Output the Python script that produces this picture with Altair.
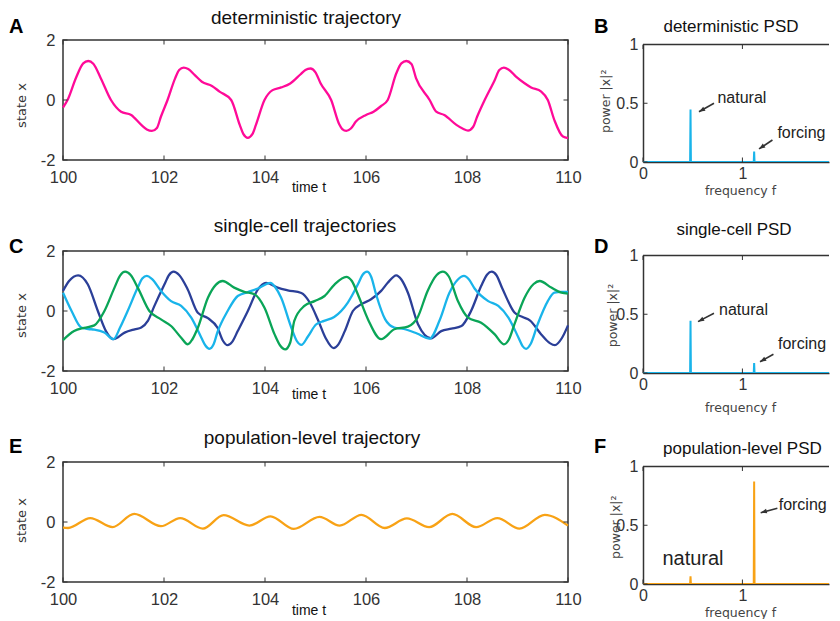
import altair as alt
import pandas as pd

FONT = "Liberation Sans"
FONT2 = "DejaVu Sans"
FRAME = "#333333"

# ---------------- data ----------------
# A: deterministic trajectory
A_T = [100.0, 100.09, 100.26, 100.4, 100.5, 100.6, 100.75, 100.95, 101.15, 101.35,
       101.55, 101.66, 101.76, 101.86, 101.94, 102.07, 102.22, 102.3, 102.39, 102.48,
       102.61, 102.75, 102.95, 103.1, 103.33, 103.5, 103.57, 103.66, 103.75, 103.82,
       103.99, 104.15, 104.32, 104.5, 104.7, 104.8, 104.9, 105.0, 105.1, 105.31,
       105.47, 105.53, 105.61, 105.7, 105.8, 106.0, 106.15, 106.3, 106.43, 106.6,
       106.7, 106.8, 106.9, 106.99, 107.26, 107.39, 107.55, 107.79, 107.92, 108.02,
       108.12, 108.2, 108.35, 108.55, 108.64, 108.73, 108.82, 108.97, 109.14, 109.27,
       109.47, 109.6, 109.73, 109.9, 110.0]
A_X = [-0.25, 0.0, 0.75, 1.22, 1.3, 1.21, 0.72, 0.0, -0.39, -0.5,
       -0.83, -0.98, -1.03, -0.93, -0.55, 0.0, 0.72, 1.0, 1.08, 1.03,
       0.83, 0.61, 0.47, 0.28, 0.0, -0.83, -1.13, -1.26, -1.14, -0.83,
       0.0, 0.33, 0.42, 0.55, 0.85, 1.0, 1.05, 0.92, 0.56, 0.0,
       -0.81, -0.97, -1.03, -0.95, -0.72, -0.5, -0.39, -0.2, 0.0, 0.89,
       1.22, 1.3, 1.2, 0.73, 0.0, -0.39, -0.5, -0.83, -0.96, -1.02,
       -0.9, -0.56, 0.0, 0.67, 1.0, 1.08, 1.02, 0.78, 0.56, 0.42,
       0.28, 0.0, -0.67, -1.22, -1.27]

# C: single-cell trajectories
C1_T = [100.0, 100.12, 100.3, 100.49, 100.69, 100.85, 101.0, 101.22, 101.42, 101.55,
        101.68, 101.81, 102.01, 102.1, 102.19, 102.3, 102.47, 102.67, 102.87, 103.06,
        103.17, 103.26, 103.35, 103.46, 103.66, 103.86, 104.02, 104.25, 104.45, 104.72,
        104.88, 105.05, 105.2, 105.36, 105.45, 105.58, 105.74, 105.9, 106.1, 106.3,
        106.43, 106.6, 106.7, 106.83, 107.03, 107.29, 107.49, 107.69, 107.89, 108.08,
        108.28, 108.4, 108.49, 108.58, 108.7, 108.94, 109.1, 109.25, 109.47, 109.64,
        109.74, 109.88, 110.0]
C1_X = [0.67, 1.0, 1.19, 0.89, 0.0, -0.67, -0.94, -0.72, -0.61, -0.55,
        -0.33, 0.17, 0.89, 1.2, 1.31, 1.2, 0.72, -0.06, -0.24, -0.56,
        -1.0, -1.14, -1.03, -0.67, 0.0, 0.72, 0.94, 0.78, 0.69, 0.6,
        0.3, -0.3, -0.9, -1.24, -1.12, -0.67, 0.0, 0.22, 0.39, 0.67,
        0.94, 1.19, 1.05, 0.61, -0.44, -0.91, -0.67, -0.59, -0.5, 0.0,
        0.83, 1.22, 1.31, 1.2, 0.75, -0.05, -0.2, -0.32, -0.78, -1.07,
        -1.14, -0.9, -0.48]

C2_T = [100.0, 100.17, 100.36, 100.5, 100.62, 100.82, 101.0, 101.13, 101.28, 101.48,
        101.57, 101.66, 101.76, 101.94, 102.14, 102.34, 102.54, 102.74, 102.82, 102.9,
        102.98, 103.06, 103.26, 103.46, 103.66, 103.86, 104.11, 104.2, 104.32, 104.52,
        104.63, 104.72, 104.85, 105.01, 105.17, 105.37, 105.64, 105.84, 105.93, 106.02,
        106.1, 106.2, 106.38, 106.56, 106.75, 107.01, 107.26, 107.46, 107.65, 107.82,
        107.94, 108.04, 108.15, 108.42, 108.62, 108.82, 109.02, 109.1, 109.17, 109.26,
        109.4, 109.6, 109.73, 109.87, 110.0]
C2_X = [0.61, 0.0, -0.55, -0.6, -0.62, -0.72, -0.94, -0.55, 0.0, 0.78,
        1.08, 1.17, 1.07, 0.67, 0.33, 0.17, -0.22, -0.89, -1.15, -1.26,
        -1.12, -0.7, 0.0, 0.5, 0.63, 0.75, 0.94, 0.8, 0.44, -0.55,
        -1.0, -1.13, -0.85, -0.45, -0.33, -0.2, 0.28, 0.89, 1.2, 1.31,
        1.15, 0.55, -0.28, -0.55, -0.6, -0.75, -0.92, -0.3, 0.6, 1.05,
        1.17, 1.05, 0.75, 0.33, 0.17, -0.22, -0.89, -1.17, -1.26, -1.1,
        -0.44, 0.33, 0.61, 0.64, 0.64]

C3_T = [100.0, 100.22, 100.42, 100.62, 100.82, 101.02, 101.13, 101.23, 101.34, 101.48,
        101.71, 101.94, 102.14, 102.34, 102.47, 102.56, 102.67, 102.87, 103.03, 103.16,
        103.39, 103.59, 103.79, 103.99, 104.19, 104.3, 104.4, 104.5, 104.58, 104.78,
        104.98, 105.18, 105.38, 105.61, 105.72, 105.84, 106.04, 106.3, 106.56, 106.83,
        107.02, 107.22, 107.4, 107.52, 107.64, 107.82, 108.02, 108.28, 108.55, 108.73,
        108.83, 108.94, 109.14, 109.32, 109.44, 109.67, 109.87, 110.0]
C3_X = [-0.97, -0.67, -0.56, -0.48, 0.0, 0.78, 1.18, 1.31, 1.2, 0.78,
        0.0, -0.28, -0.5, -0.89, -1.11, -0.95, -0.56, 0.44, 0.88, 1.0,
        0.78, 0.64, 0.56, 0.11, -0.78, -1.15, -1.28, -1.05, -0.33, 0.17,
        0.33, 0.5, 0.89, 1.14, 1.0, 0.55, -0.28, -0.94, -0.61, -0.52,
        -0.22, 0.67, 1.2, 1.31, 1.15, 0.33, -0.22, -0.39, -0.78, -1.11,
        -0.95, -0.44, 0.44, 0.9, 1.0, 0.78, 0.61, 0.58]

# E: population-level trajectory
E_T = [100.0, 100.1, 100.54, 100.98, 101.41, 101.94, 102.32, 102.77, 103.18, 103.69,
       104.11, 104.57, 105.08, 105.48, 105.91, 106.37, 106.81, 107.25, 107.71, 108.18,
       108.6, 109.04, 109.54, 110.0]
E_X = [-0.19, -0.2, 0.13, -0.17, 0.27, -0.14, 0.13, -0.22, 0.23, -0.12,
       0.19, -0.23, 0.17, -0.12, 0.24, -0.2, 0.12, -0.17, 0.27, -0.17,
       0.13, -0.22, 0.24, -0.12]

# PSD panels
PSD_F = [0.0, 0.474, 0.478, 0.482, 1.114, 1.118, 1.122, 1.89]
B_P = [0.0, 0.0, 0.446, 0.0, 0.0, 0.09, 0.0, 0.0]
D_P = [0.0, 0.0, 0.445, 0.0, 0.0, 0.085, 0.0, 0.0]
F_P = [0.0, 0.0, 0.065, 0.0, 0.0, 0.872, 0.0, 0.0]

X_TICKS = [100, 102, 104, 106, 108, 110]
Y_TICKS = [-2, 0, 2]
F_TICKS = [0, 1]
P_TICKS = [0, 0.5, 1]

SERIES = ["a", "c1", "c2", "c3", "e"]
SERIES_COLORS = ["#ff0a98", "#2b3f98", "#19b4ea", "#0aa557", "#f8a215"]
COL_CYAN = "#19b4ea"
COL_ORANGE = "#f8a215"

# ---------------- layout constants ----------------
LW, LH = 505, 120
RW, RH, RTOP = 186, 122, 4.5
F_MAX = 1.871
ARROW = "M0,0L-0.5,1.3L0.5,1.3Z"


def text_layer(s, x, y, size, weight="normal", align="center", color="#111"):
    return alt.Chart(pd.DataFrame({"s": [s]})).mark_text(
        font=FONT, fontSize=size, fontWeight=weight, align=align,
        baseline="alphabetic", color=color,
    ).encode(text="s:N", x=alt.value(x), y=alt.value(y))


def left_panel(df, title, tx, ty, letter, ly, ytitle_y, ttitle_y):
    xs = alt.Scale(domain=[100, 110], nice=False, zero=False)
    ys = alt.Scale(domain=[-2, 2], nice=False, zero=False)
    common = dict(labelFont=FONT, labelFontSize=16.5, labelColor="#333",
                  ticks=False, tickSize=0, domain=False, grid=False,
                  labelFlush=False, labelExpr="'' + datum.value",
                  titleFontWeight="normal",
                  titleAlign="center", titleBaseline="alphabetic")
    xaxis = alt.Axis(values=X_TICKS, labelPadding=9, title="time t",
                     titleFont=FONT, titleFontSize=14, titleColor="#111", titleX=245.5,
                     titleY=ttitle_y, **common)
    yaxis = alt.Axis(values=Y_TICKS, labelPadding=8, title="state x",
                     titleFont=FONT2, titleFontSize=13, titleColor="#333", titleAngle=270,
                     titleX=-38, titleY=ytitle_y, **common)
    X = alt.X("t:Q", scale=xs, axis=xaxis)
    Y = alt.Y("v:Q", scale=ys, axis=yaxis)
    lines = alt.Chart(df).mark_line(interpolate="monotone", strokeWidth=2.3).encode(
        x=X, y=Y,
        color=alt.Color("s:N", scale=alt.Scale(domain=SERIES, range=SERIES_COLORS), legend=None),
    )
    xt = pd.DataFrame({"t": X_TICKS})
    yt = pd.DataFrame({"v": Y_TICKS})
    tick_top = alt.Chart(xt).mark_rule(color=FRAME, strokeWidth=1).encode(
        x=X, y=alt.value(0), y2=alt.value(4.5))
    tick_bot = alt.Chart(xt).mark_rule(color=FRAME, strokeWidth=1).encode(
        x=X, y=alt.value(LH), y2=alt.value(LH - 4.5))
    tick_l = alt.Chart(yt).mark_rule(color=FRAME, strokeWidth=1).encode(
        y=Y, x=alt.value(0), x2=alt.value(4.5))
    tick_r = alt.Chart(yt).mark_rule(color=FRAME, strokeWidth=1).encode(
        y=Y, x=alt.value(LW), x2=alt.value(LW - 4.5))
    ttl = text_layer(title, tx, ty, 19)
    let = text_layer(letter, -54, ly, 20, weight="bold", align="left", color="#000")
    return alt.layer(lines, tick_top, tick_bot, tick_l, tick_r, ttl, let).properties(
        width=LW, height=LH,
        view=alt.ViewBackground(stroke=FRAME, strokeWidth=1.5),
    )


def right_panel(p_vals, color, title, tx, ty, letter, ly, ptx, pty, fty, ann, arrows):
    xs = alt.Scale(domain=[0, F_MAX], nice=False, zero=False)
    ys = alt.Scale(domain=[0, 1], range=[RH, RTOP], nice=False, zero=False)
    common = dict(labelFont=FONT, labelFontSize=16, labelColor="#333",
                  ticks=False, tickSize=0, domain=True, domainColor=FRAME,
                  domainWidth=1.5, grid=False, labelFlush=False,
                  labelExpr="'' + datum.value",
                  titleFont=FONT2, titleFontWeight="normal", titleFontSize=12.5,
                  titleColor="#444", titleAlign="center", titleBaseline="alphabetic")
    xaxis = alt.Axis(values=F_TICKS, labelPadding=3, title="frequency f",
                     titleX=97, titleY=fty, **common)
    yaxis = alt.Axis(values=P_TICKS, labelPadding=5, title="power |x|²",
                     titleAngle=270, titleX=ptx, titleY=pty, **common)
    X = alt.X("f:Q", scale=xs, axis=xaxis)
    Y = alt.Y("p:Q", scale=ys, axis=yaxis)
    df = pd.DataFrame({"f": PSD_F, "p": p_vals})
    line = alt.Chart(df).mark_line(color=color, strokeWidth=2, clip=True).encode(x=X, y=Y)
    top = alt.Chart(pd.DataFrame({"a": [0]})).mark_rule(color=FRAME, strokeWidth=1.5).encode(
        x=alt.value(0), x2=alt.value(RW), y=alt.value(RTOP))
    xt = pd.DataFrame({"f": F_TICKS})
    yt = pd.DataFrame({"p": P_TICKS})
    tick_top = alt.Chart(xt).mark_rule(color=FRAME, strokeWidth=1).encode(
        x=X, y=alt.value(RTOP), y2=alt.value(RTOP + 4.5))
    tick_bot = alt.Chart(xt).mark_rule(color=FRAME, strokeWidth=1).encode(
        x=X, y=alt.value(RH), y2=alt.value(RH - 4.5))
    tick_l = alt.Chart(yt).mark_rule(color=FRAME, strokeWidth=1).encode(
        y=Y, x=alt.value(0), x2=alt.value(4.5))
    ann_df = pd.DataFrame(ann, columns=["f", "p", "s", "fs"])
    labels = alt.Chart(ann_df).mark_text(font=FONT, align="left", baseline="alphabetic",
                                         color="#222").encode(
        x=X, y=Y, text="s:N",
        size=alt.Size("fs:Q", scale=None, legend=None),
    )
    layers = [line, top, tick_top, tick_bot, tick_l, labels]
    if arrows:
        arr_df = pd.DataFrame(arrows, columns=["f", "p", "f2", "p2", "ang"])
        shaft = alt.Chart(arr_df).mark_rule(color="#333", strokeWidth=1.6).encode(
            x=X, y=Y, x2="f2:Q", y2="p2:Q")
        head = alt.Chart(arr_df).mark_point(shape=ARROW, filled=True, size=90,
                                            color="#333", opacity=1).encode(
            x=alt.X("f2:Q", scale=xs, axis=xaxis), y=alt.Y("p2:Q", scale=ys, axis=yaxis),
            angle=alt.Angle("ang:Q", scale=None))
        layers += [shaft, head]
    layers += [text_layer(title, tx, ty, 17),
               text_layer(letter, -49, ly, 20, weight="bold", align="left", color="#000")]
    return alt.layer(*layers).properties(
        width=RW, height=RH,
        view=alt.ViewBackground(stroke="transparent"),
    )


dfA = pd.DataFrame({"t": A_T, "v": A_X, "s": "a"})
dfC = pd.concat([
    pd.DataFrame({"t": C1_T, "v": C1_X, "s": "c1"}),
    pd.DataFrame({"t": C2_T, "v": C2_X, "s": "c2"}),
    pd.DataFrame({"t": C3_T, "v": C3_X, "s": "c3"}),
])
dfE = pd.DataFrame({"t": E_T, "v": E_X, "s": "e"})

panelA = left_panel(dfA, "deterministic trajectory", 243, -16, "A", -6.7, 65, 31.7)
panelC = left_panel(dfC, "single-cell trajectories", 242, -19.3, "C", 1.7, 64, 27)
panelE = left_panel(dfE, "population-level trajectory", 249, -18, "E", -8.7, 58, 32)

panelB = right_panel(B_P, COL_CYAN, "deterministic PSD", 88, -8.5, "B", -6.7, -34, 60.8, 32,
                     [(0.749, 0.502, "natural", 16), (1.352, 0.204, "forcing", 16)],
                     [(0.714, 0.5, 0.563, 0.428, 241), (1.302, 0.187, 1.167, 0.111, 236)])
panelD = right_panel(D_P, COL_CYAN, "single-cell PSD", 91, -16, "D", 1.7, -27, 64, 38,
                     [(0.765, 0.494, "natural", 16), (1.358, 0.204, "forcing", 16)],
                     [(0.714, 0.508, 0.553, 0.437, 242), (1.312, 0.159, 1.177, 0.096, 241)])
panelF = right_panel(F_P, COL_ORANGE, "population-level PSD", 99.4, -7.7, "F", -9.3, -24, 64.7, 32,
                     [(1.365, 0.63, "forcing", 16), (0.195, 0.162, "natural", 20)],
                     [(1.352, 0.644, 1.184, 0.607, 255)])

chart = alt.concat(
    panelA, panelB, panelC, panelD, panelE, panelF,
    columns=2,
    spacing=alt.RowColnumber(row=89, column=75),
    bounds="flush",
).resolve_scale(x="independent", y="independent").properties(
    padding={"left": 0, "top": 0, "right": 0, "bottom": 0},
).configure(background="white")

chart.save("out.html", embed_options={"renderer": "svg", "actions": False})
